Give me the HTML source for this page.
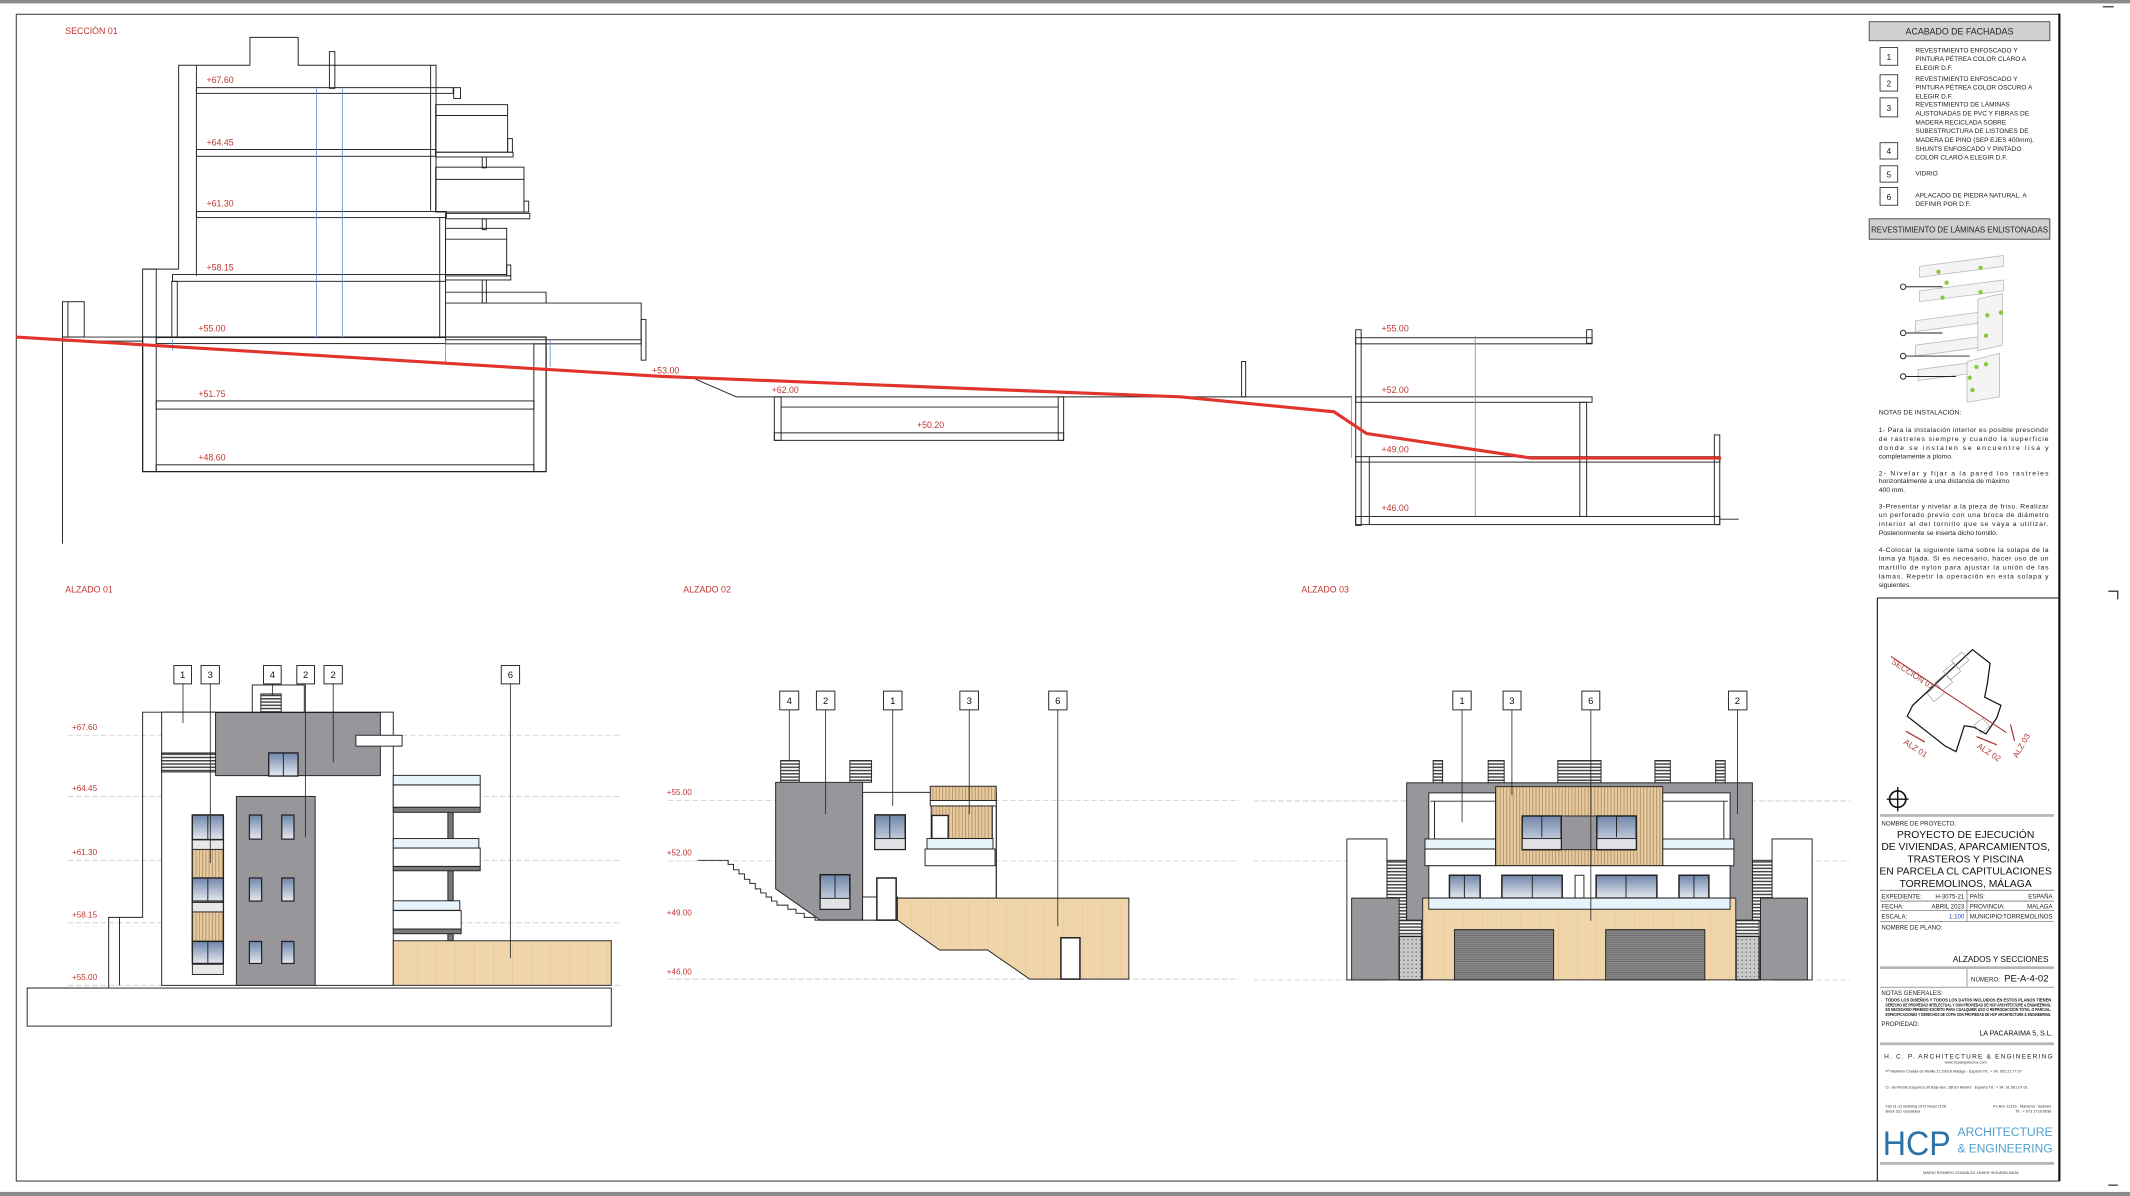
<!DOCTYPE html>
<html><head><meta charset="utf-8">
<style>
html,body{margin:0;padding:0;background:#fff;}
svg{display:block;}
text{font-family:"Liberation Sans",sans-serif;}
</style></head>
<body>
<svg width="2130" height="1196" viewBox="0 0 1568 880" preserveAspectRatio="none" xmlns="http://www.w3.org/2000/svg">
<defs>
<pattern id="louv" width="4" height="2.4" patternUnits="userSpaceOnUse"><rect width="4" height="2.4" fill="#fff"/><rect width="4" height="1.1" fill="#444"/></pattern>
<pattern id="wood" width="2.4" height="4" patternUnits="userSpaceOnUse"><rect width="2.4" height="4" fill="#e6cba0"/><rect width="0.7" height="4" fill="#b89468"/></pattern>
<pattern id="stone" width="14" height="20" patternUnits="userSpaceOnUse"><rect width="14" height="20" fill="#f1d5aa"/><rect x="13" width="0.4" height="20" fill="#e6c496"/></pattern>
<pattern id="gar" width="4" height="1.6" patternUnits="userSpaceOnUse"><rect width="4" height="1.6" fill="#8a8a8a"/><rect width="4" height="0.6" fill="#6a6a6a"/></pattern>
<pattern id="hatch" width="3" height="3" patternUnits="userSpaceOnUse"><rect width="3" height="3" fill="#c9c9c9"/><circle cx="1.5" cy="1.5" r="0.4" fill="#333"/></pattern>
<linearGradient id="gl" x1="0" y1="0" x2="0" y2="1"><stop offset="0" stop-color="#6f86ab"/><stop offset="1" stop-color="#e6e9f0"/></linearGradient>
</defs>

<rect x="0" y="0" width="1568" height="2.5" fill="#8a8a8a"/>
<rect x="0" y="877" width="1568" height="3" fill="#8a8a8a"/>
<rect x="12" y="10.5" width="1504" height="858.5" fill="none" stroke="#444" stroke-width="0.8"/>
<line x1="1516" y1="10" x2="1516" y2="869" stroke="#111" stroke-width="1.6"/>
<line x1="1382" y1="440" x2="1382" y2="869" stroke="#111" stroke-width="0.8"/>
<line x1="1382" y1="440" x2="1516" y2="440" stroke="#111" stroke-width="0.8"/>
<path d="M1552 435 H1559 V441" fill="none" stroke="#111" stroke-width="0.8"/>
<line x1="1552" y1="872" x2="1559" y2="872" stroke="#111" stroke-width="0.8"/>
<line x1="1548" y1="5" x2="1556" y2="5" stroke="#111" stroke-width="0.8"/>

<g fill="#c0352e" font-size="6.5">
<text x="48" y="25">SECCIÓN 01</text>
<text x="48" y="436">ALZADO 01</text>
<text x="503" y="436">ALZADO 02</text>
<text x="958" y="436">ALZADO 03</text>
</g>
<g fill="none" stroke="#222" stroke-width="0.7">
<polyline points="131.5,198 131.5,48 184,48 184,27.5 219.5,27.5 219.5,48 321,48 321,155"/>
<line x1="144.6" y1="48" x2="144.6" y2="203"/>
<line x1="317" y1="48" x2="317" y2="155"/>
<rect x="242.5" y="38" width="4" height="27"/>
<rect x="144.6" y="64.5" width="189" height="4.2"/>
<rect x="334" y="64.5" width="5" height="8"/>
<rect x="144.6" y="110" width="176" height="5"/>
<rect x="144.6" y="155.6" width="184" height="4.5"/>
<rect x="127" y="202" width="201" height="5"/>
<rect x="115" y="248.4" width="213" height="4.4"/>
<rect x="323.7" y="160" width="4.3" height="88"/>
<rect x="126.5" y="207" width="4" height="41"/>
<rect x="320.7" y="77" width="53" height="35"/><line x1="320.7" y1="85" x2="373.7" y2="85"/>
<rect x="373.7" y="102" width="3.5" height="10"/>
<rect x="320.7" y="112" width="57" height="3.5"/>
<rect x="355" y="115.5" width="3" height="8"/>
<rect x="320.7" y="123" width="65" height="33"/><line x1="320.7" y1="132" x2="385.7" y2="132"/>
<rect x="385.7" y="148" width="3.5" height="8"/>
<rect x="328" y="157" width="62" height="4"/>
<rect x="355" y="161" width="3" height="8"/>
<rect x="328" y="168" width="45" height="34"/><line x1="328" y1="176" x2="373" y2="176"/>
<rect x="373" y="195" width="3" height="8"/>
<rect x="328" y="203" width="48" height="3"/>
<rect x="355" y="206" width="3" height="17"/>
<polyline points="328,215 402,215 402,223 472,223 472,250"/>
<rect x="472" y="235" width="3.5" height="30"/>
<rect x="328" y="250" width="144" height="3"/>
<line x1="328" y1="223" x2="402" y2="223"/>
<rect x="105" y="198" width="10" height="149"/>
<line x1="105" y1="198" x2="131.5" y2="198"/>
<rect x="105" y="248" width="297" height="99" stroke-width="0.9"/>
<rect x="393" y="253" width="9" height="94"/>
<rect x="115" y="295" width="278" height="6"/>
<rect x="115" y="342" width="278" height="5"/>
<rect x="46" y="222" width="16" height="26"/><line x1="50" y1="222" x2="50" y2="248"/>
<line x1="46" y1="248" x2="105" y2="248"/><line x1="46" y1="251" x2="105" y2="251"/>
<line x1="46" y1="248" x2="46" y2="400"/>
<line x1="512" y1="279" x2="542" y2="292"/>
<line x1="542" y1="292" x2="995" y2="292"/>
<rect x="570" y="292" width="5" height="32"/>
<rect x="779" y="292" width="4" height="32"/>
<line x1="575" y1="299.5" x2="779" y2="299.5"/>
<rect x="570" y="318.5" width="213" height="5.5"/>
<rect x="914" y="266" width="3" height="26"/>
<rect x="998" y="242.6" width="4" height="144"/>
<rect x="1168" y="242.6" width="4" height="10"/>
<rect x="998" y="248.5" width="174" height="4.5"/>
<rect x="998" y="292" width="174" height="4"/>
<rect x="998" y="336" width="268" height="4"/>
<rect x="998" y="380" width="268" height="6"/>
<rect x="1163" y="296" width="5" height="84"/>
<line x1="1008" y1="336" x2="1008" y2="386"/>
<rect x="1262" y="320" width="4" height="66"/>
<line x1="1266" y1="382" x2="1280" y2="382"/>
</g>
<g stroke="#5b8fd8" stroke-width="0.6">
<line x1="233" y1="65" x2="233" y2="249"/><line x1="252" y1="65" x2="252" y2="249"/>
<line x1="127" y1="250" x2="127" y2="258"/><line x1="328" y1="250" x2="328" y2="268"/><line x1="405" y1="250" x2="405" y2="270"/>
<line x1="1086" y1="247" x2="1086" y2="380"/><line x1="995" y1="291" x2="995" y2="337"/>
</g>
<polyline points="12,248 488,277 869,292 982,303 1006,319 1127,337 1267,337" fill="none" stroke="#e0342c" stroke-width="2.3"/>
<g fill="#c0352e" font-size="6.5">
<text x="152" y="61">+67.60</text><text x="152" y="107">+64.45</text><text x="152" y="152">+61.30</text>
<text x="152" y="199">+58.15</text><text x="146" y="244">+55.00</text><text x="146" y="292">+51.75</text>
<text x="146" y="339">+48.60</text><text x="480" y="275">+53.00</text><text x="568" y="289">+62.00</text>
<text x="675" y="315">+50.20</text><text x="1017" y="244">+55.00</text><text x="1017" y="289">+52.00</text>
<text x="1017" y="333">+49.00</text><text x="1017" y="376">+46.00</text>
</g>

<g stroke="#ccc" stroke-width="0.6" stroke-dasharray="4,2">
<line x1="50" y1="541" x2="458" y2="541"/><line x1="50" y1="586" x2="458" y2="586"/>
<line x1="50" y1="633" x2="458" y2="633"/><line x1="50" y1="679" x2="458" y2="679"/>
<line x1="50" y1="725" x2="458" y2="725"/>
</g>
<g fill="#c0352e" font-size="6"><text x="53" y="537">+67.60</text><text x="53" y="582">+64.45</text><text x="53" y="629">+61.30</text><text x="53" y="675">+58.15</text><text x="53" y="721">+55.00</text></g>
<g stroke="#222" stroke-width="0.7">
<polyline points="20,727 80,727 80,675 105,675 105,524 159,524" fill="none"/>
<rect x="20" y="727" width="430" height="28" fill="none"/>
<line x1="88" y1="675" x2="88" y2="725"/>
<rect x="119" y="524" width="170.5" height="201" fill="#fff"/>
<rect x="119" y="554" width="40" height="14" fill="url(#louv)"/>
<rect x="185.7" y="504" width="38.3" height="20" fill="#fff"/>
<rect x="192" y="510.6" width="15" height="13.7" fill="url(#louv)"/>
<rect x="158.7" y="524.3" width="121.3" height="46.4" fill="#97979b"/>
<rect x="262" y="541" width="34" height="8" fill="#fff"/>
<rect x="197.8" y="554" width="21.6" height="17" fill="url(#gl)" stroke-width="1"/>
<line x1="208.6" y1="554" x2="208.6" y2="571"/>
<rect x="174" y="586" width="58" height="139" fill="#97979b"/>
<g fill="url(#gl)" stroke-width="0.9">
<rect x="183.6" y="599.7" width="9" height="17.7"/><rect x="207.4" y="599.7" width="9" height="17.7"/>
<rect x="183.6" y="646" width="9" height="17"/><rect x="207.4" y="646" width="9" height="17"/>
<rect x="183.6" y="692.7" width="9" height="16.2"/><rect x="207.4" y="692.7" width="9" height="16.2"/>
</g>
<rect x="141.6" y="599.7" width="22.8" height="101" fill="#fff" stroke-width="1.1"/>
<rect x="141.6" y="599.7" width="22.8" height="18" fill="url(#gl)" stroke-width="1"/>
<rect x="141.6" y="618" width="22.8" height="7" fill="#e8e8ea"/>
<rect x="141.6" y="625" width="22.8" height="21" fill="url(#wood)"/>
<rect x="141.6" y="646" width="22.8" height="17" fill="url(#gl)" stroke-width="1"/>
<rect x="141.6" y="664" width="22.8" height="7" fill="#e8e8ea"/>
<rect x="141.6" y="671" width="22.8" height="21.5" fill="url(#wood)"/>
<rect x="141.6" y="692.7" width="22.8" height="16.2" fill="url(#gl)" stroke-width="1"/>
<rect x="141.6" y="709.5" width="22.8" height="7.5" fill="#e8e8ea"/>
<line x1="153" y1="599.7" x2="153" y2="617.4"/><line x1="153" y1="646" x2="153" y2="663"/><line x1="153" y1="692.7" x2="153" y2="709"/>
<rect x="329.7" y="597" width="3.9" height="20" fill="#777"/>
<rect x="329.7" y="640.7" width="3.9" height="22" fill="#777"/>
<rect x="329.7" y="687" width="3.9" height="6" fill="#777"/>
<rect x="289.5" y="570.5" width="64" height="7" fill="#e8f4fb"/>
<rect x="289.5" y="577.6" width="64" height="16.4" fill="#fff"/>
<rect x="289.5" y="594" width="64" height="3.7" fill="#7a7a7e"/>
<rect x="289.5" y="617" width="63" height="7" fill="#e8f4fb"/>
<rect x="289.5" y="624" width="64" height="13.5" fill="#fff"/>
<rect x="289.5" y="637.5" width="64" height="3.2" fill="#7a7a7e"/>
<rect x="289.5" y="662.8" width="49" height="7" fill="#e8f4fb"/>
<rect x="289.5" y="670" width="50" height="13.6" fill="#fff"/>
<rect x="289.5" y="683.6" width="50" height="3.4" fill="#7a7a7e"/>
<rect x="289.5" y="692.2" width="160.5" height="32.8" fill="url(#stone)"/>
</g>
<g stroke="#222" stroke-width="0.6" fill="none">
<line x1="134.7" y1="503.2" x2="134.7" y2="532"/><line x1="154.8" y1="503.2" x2="154.8" y2="635"/>
<line x1="200.5" y1="503.2" x2="200.5" y2="512"/><line x1="224.8" y1="503.2" x2="224.8" y2="616"/>
<line x1="245.3" y1="503.2" x2="245.3" y2="561"/><line x1="375.7" y1="503.2" x2="375.7" y2="705"/>
</g>
<g font-size="7" text-anchor="middle" fill="#111">
<rect x="128" y="489.7" width="13" height="13.5" fill="#fff" stroke="#222" stroke-width="0.7"/><text x="134.5" y="499">1</text>
<rect x="148" y="489.7" width="13.5" height="13.5" fill="#fff" stroke="#222" stroke-width="0.7"/><text x="154.8" y="499">3</text>
<rect x="194" y="489.7" width="13" height="13.5" fill="#fff" stroke="#222" stroke-width="0.7"/><text x="200.5" y="499">4</text>
<rect x="218.5" y="489.7" width="13" height="13.5" fill="#fff" stroke="#222" stroke-width="0.7"/><text x="225" y="499">2</text>
<rect x="238.5" y="489.7" width="13.5" height="13.5" fill="#fff" stroke="#222" stroke-width="0.7"/><text x="245.3" y="499">2</text>
<rect x="369" y="489.7" width="13.5" height="13.5" fill="#fff" stroke="#222" stroke-width="0.7"/><text x="375.7" y="499">6</text>
</g>

<g stroke="#ccc" stroke-width="0.6" stroke-dasharray="4,2">
<line x1="491.7" y1="589" x2="912.5" y2="589"/><line x1="491.7" y1="633.5" x2="912.5" y2="633.5"/>
<line x1="491.7" y1="720.4" x2="912.5" y2="720.4"/>
</g>
<g fill="#c0352e" font-size="6"><text x="490.8" y="585">+55.00</text><text x="490.8" y="629.5">+52.00</text><text x="490.8" y="673.5">+49.00</text><text x="490.8" y="717">+46.00</text></g>
<g stroke="#222" stroke-width="0.7">
<rect x="574.7" y="559.6" width="13.7" height="16" fill="url(#louv)"/>
<rect x="625.6" y="559.6" width="16" height="16" fill="url(#louv)"/>
<rect x="635" y="583" width="98.4" height="77.8" fill="#fff"/>
<polygon points="571,575.6 635,575.6 635,677 603.8,677 571,654" fill="#97979b"/>
<polyline points="513.5,633 536,633 536,636 540,636 540,640 544,640 544,643 548,643 548,647 552,647 552,650 556,650 556,654 560,654 560,657 564,657 564,660 568,660 568,663 572,663 572,666 580,666 580,669 586,669 586,672 592,672 592,675 600,675 600,677 660.6,677" fill="none"/>
<rect x="635" y="660" width="25.6" height="17" fill="#fff"/>
<rect x="645.5" y="646" width="14.2" height="31" fill="#fff" stroke-width="1.1"/>
<rect x="644" y="599.6" width="22.4" height="25.4" fill="url(#gl)" stroke-width="1.1"/>
<line x1="655" y1="599.6" x2="655" y2="617"/><rect x="644" y="617" width="22.4" height="8" fill="#e0e2e6"/>
<rect x="603.8" y="643.6" width="21.8" height="25.4" fill="url(#gl)" stroke-width="1.1"/>
<line x1="614.7" y1="643.6" x2="614.7" y2="661"/><rect x="603.8" y="661" width="21.8" height="8" fill="#e0e2e6"/>
<rect x="684.8" y="578.5" width="48.6" height="10.5" fill="url(#wood)"/>
<rect x="684.8" y="589" width="48.6" height="4" fill="#fff"/>
<rect x="685.5" y="593" width="45" height="24" fill="url(#wood)"/>
<rect x="686" y="600" width="12" height="17" fill="#fff" stroke-width="1"/>
<rect x="682.4" y="617" width="48.6" height="7.7" fill="#e8f4fb"/>
<rect x="681" y="624.7" width="51.5" height="12.3" fill="#fff"/>
<line x1="733.4" y1="593" x2="733.4" y2="660.8"/>
<polygon points="660.6,660.8 831,660.8 831,720.4 758,720.4 727,699 691.7,699 660.6,677" fill="url(#stone)"/>
<rect x="781" y="690" width="14" height="30.4" fill="#fff" stroke-width="1.1"/>
</g>
<g stroke="#222" stroke-width="0.6">
<line x1="581" y1="522.3" x2="581" y2="559.6"/><line x1="607.8" y1="522.3" x2="607.8" y2="599"/>
<line x1="657.2" y1="522.3" x2="657.2" y2="593"/><line x1="713.5" y1="522.3" x2="713.5" y2="599"/>
<line x1="778.7" y1="522.3" x2="778.7" y2="681.6"/>
</g>
<g font-size="7" text-anchor="middle" fill="#111">
<rect x="574" y="508.5" width="14" height="13.8" fill="#fff" stroke="#222" stroke-width="0.7"/><text x="581" y="518">4</text>
<rect x="601" y="508.5" width="13.6" height="13.8" fill="#fff" stroke="#222" stroke-width="0.7"/><text x="607.8" y="518">2</text>
<rect x="650.4" y="508.5" width="13.6" height="13.8" fill="#fff" stroke="#222" stroke-width="0.7"/><text x="657.2" y="518">1</text>
<rect x="706.6" y="508.5" width="13.7" height="13.8" fill="#fff" stroke="#222" stroke-width="0.7"/><text x="713.5" y="518">3</text>
<rect x="772" y="508.5" width="13.5" height="13.8" fill="#fff" stroke="#222" stroke-width="0.7"/><text x="778.7" y="518">6</text>
</g>

<g stroke="#ccc" stroke-width="0.6" stroke-dasharray="4,2">
<line x1="923" y1="589.3" x2="1362" y2="589.3"/><line x1="923" y1="633.5" x2="1362" y2="633.5"/>
<line x1="923" y1="721" x2="1362" y2="721"/>
</g>
<g stroke="#222" stroke-width="0.7">
<rect x="1055" y="559.6" width="7" height="16.4" fill="url(#louv)"/>
<rect x="1095.5" y="559.6" width="11.8" height="16.4" fill="url(#louv)"/>
<rect x="1146.8" y="559.6" width="31.8" height="16.4" fill="url(#louv)"/>
<rect x="1218.3" y="559.6" width="11.3" height="16.4" fill="url(#louv)"/>
<rect x="1263" y="559.6" width="7" height="16.4" fill="url(#louv)"/>
<rect x="991.5" y="617.3" width="29.5" height="103.7" fill="#fff"/>
<rect x="1304.5" y="617.3" width="29.5" height="103.7" fill="#fff"/>
<rect x="1021" y="633" width="14.5" height="44.5" fill="url(#louv)"/>
<rect x="1290" y="633" width="14.5" height="44.5" fill="url(#louv)"/>
<rect x="995" y="660.8" width="35" height="60.2" fill="#97979b"/>
<rect x="1296" y="660.8" width="34.5" height="60.2" fill="#97979b"/>
<rect x="1030" y="677" width="16.5" height="12" fill="url(#louv)"/>
<rect x="1278" y="677" width="17" height="12" fill="url(#louv)"/>
<rect x="1030" y="689" width="16.5" height="32" fill="url(#hatch)" stroke-width="1"/>
<rect x="1278" y="689" width="17" height="32" fill="url(#hatch)" stroke-width="1"/>
<rect x="1035.5" y="576" width="254.5" height="101" fill="#97979b"/>
<rect x="1051.8" y="583.4" width="49.2" height="34" fill="#fff"/>
<rect x="1224" y="583.4" width="49.6" height="34" fill="#fff"/>
<line x1="1053" y1="589.5" x2="1101" y2="589.5"/><line x1="1224" y1="589.5" x2="1272" y2="589.5"/>
<line x1="1056" y1="589.5" x2="1056" y2="617"/><line x1="1269" y1="589.5" x2="1269" y2="617"/>
<rect x="1049" y="617.3" width="52" height="7.4" fill="#e8f4fb"/>
<rect x="1049" y="624.7" width="52" height="12.3" fill="#fff"/>
<rect x="1224" y="617.3" width="52.4" height="7.4" fill="#e8f4fb"/>
<rect x="1224" y="624.7" width="52.4" height="12.3" fill="#fff"/>
<rect x="1101" y="578.8" width="123" height="58.2" fill="url(#wood)"/>
<rect x="1120.6" y="600.4" width="84" height="24.8" fill="#97979b"/>
<rect x="1120.6" y="600.4" width="28.7" height="24.8" fill="url(#gl)" stroke-width="1.1"/>
<rect x="1175.5" y="600.4" width="29" height="24.8" fill="url(#gl)" stroke-width="1.1"/>
<line x1="1135" y1="600.4" x2="1135" y2="616"/><line x1="1190" y1="600.4" x2="1190" y2="616"/>
<rect x="1120.6" y="617" width="28.7" height="8" fill="#dfe1e5"/><rect x="1175.5" y="617" width="29" height="8" fill="#dfe1e5"/>
<rect x="1051.8" y="637" width="221.8" height="24" fill="#fff"/>
<g fill="url(#gl)" stroke-width="1.1">
<rect x="1067" y="644" width="22.6" height="16.8"/><rect x="1105.6" y="644" width="44.4" height="16.8"/>
<rect x="1175" y="644" width="44.7" height="16.8"/><rect x="1236" y="644" width="22" height="16.8"/>
</g>
<line x1="1078" y1="644" x2="1078" y2="660.8"/><line x1="1128" y1="644" x2="1128" y2="660.8"/>
<line x1="1197" y1="644" x2="1197" y2="660.8"/><line x1="1247" y1="644" x2="1247" y2="660.8"/>
<rect x="1159.5" y="644" width="6.5" height="16.8" fill="#fff"/>
<rect x="1047.3" y="660.8" width="230.5" height="60.2" fill="url(#stone)"/>
<rect x="1051.8" y="660.8" width="221.8" height="8.2" fill="#e8f4fb"/>
<rect x="1070.7" y="684" width="73" height="37" fill="url(#gar)"/>
<rect x="1182" y="684" width="73" height="37" fill="url(#gar)"/>
</g>
<g stroke="#222" stroke-width="0.6">
<line x1="1076.3" y1="522.3" x2="1076.3" y2="605"/><line x1="1113" y1="522.3" x2="1113" y2="585"/>
<line x1="1171.1" y1="522.3" x2="1171.1" y2="677.5"/><line x1="1279" y1="522.3" x2="1279" y2="599"/>
</g>
<g font-size="7" text-anchor="middle" fill="#111">
<rect x="1069.5" y="508.5" width="13.5" height="13.8" fill="#fff" stroke="#222" stroke-width="0.7"/><text x="1076.3" y="518">1</text>
<rect x="1106.5" y="508.5" width="13.2" height="13.8" fill="#fff" stroke="#222" stroke-width="0.7"/><text x="1113" y="518">3</text>
<rect x="1164.5" y="508.5" width="13.2" height="13.8" fill="#fff" stroke="#222" stroke-width="0.7"/><text x="1171.1" y="518">6</text>
<rect x="1272.4" y="508.5" width="13.6" height="13.8" fill="#fff" stroke="#222" stroke-width="0.7"/><text x="1279" y="518">2</text>
</g>

<rect x="1376" y="16" width="133" height="14" fill="#d0d0d0" stroke="#333" stroke-width="0.6"/>
<text x="1442.5" y="25.5" font-size="6.5" text-anchor="middle" fill="#222">ACABADO DE FACHADAS</text>
<g fill="#fff" stroke="#222" stroke-width="0.6">
<rect x="1384" y="35" width="13" height="13"/><rect x="1384" y="55" width="13" height="12"/>
<rect x="1384" y="72" width="13" height="14"/><rect x="1384" y="105" width="13" height="12"/>
<rect x="1384" y="122" width="13" height="12"/><rect x="1384" y="138" width="13" height="13"/>
</g>
<g font-size="6" text-anchor="middle" fill="#111">
<text x="1390.5" y="44">1</text><text x="1390.5" y="63.5">2</text><text x="1390.5" y="81.5">3</text>
<text x="1390.5" y="113.5">4</text><text x="1390.5" y="130.5">5</text><text x="1390.5" y="147">6</text>
</g>
<g font-size="4.8" fill="#222">
<text x="1410" y="38.5">REVESTIMIENTO ENFOSCADO Y</text><text x="1410" y="45">PINTURA PÉTREA COLOR CLARO A</text><text x="1410" y="51.5">ELEGIR D.F.</text>
<text x="1410" y="59.5">REVESTIMIENTO ENFOSCADO Y</text><text x="1410" y="66">PINTURA PÉTREA COLOR OSCURO A</text><text x="1410" y="72.5">ELEGIR D.F.</text>
<text x="1410" y="78.5">REVESTIMIENTO DE LÁMINAS</text><text x="1410" y="85">ALISTONADAS DE PVC Y FIBRAS DE</text><text x="1410" y="91.5">MADERA RECICLADA SOBRE</text><text x="1410" y="98">SUBESTRUCTURA DE LISTONES DE</text><text x="1410" y="104.5">MADERA DE PINO (SEP EJES 400mm).</text>
<text x="1410" y="111">SHUNTS ENFOSCADO Y PINTADO</text><text x="1410" y="117.5">COLOR CLARO A ELEGIR D.F.</text>
<text x="1410" y="129">VIDRIO</text>
<text x="1410" y="145.5">APLACADO DE PIEDRA NATURAL. A</text><text x="1410" y="151.5">DEFINIR POR D.F.</text>
</g>
<rect x="1376" y="161" width="133" height="15" fill="#d0d0d0" stroke="#333" stroke-width="0.6"/>
<text x="1442.5" y="171" font-size="5.8" text-anchor="middle" fill="#222">REVESTIMIENTO DE LÁMINAS ENLISTONADAS</text>
<g stroke="#bbb" stroke-width="0.6" fill="#f4f4f4">
<polygon points="1413,196 1475,188 1475,196 1413,204"/>
<polygon points="1413,214 1475,206 1475,214 1413,222"/>
<polygon points="1410,236 1470,228 1470,236 1410,244"/>
<polygon points="1410,254 1470,246 1470,254 1410,262"/>
<polygon points="1456,220 1474,216 1474,254 1456,258"/>
<polygon points="1412,272 1472,264 1472,272 1412,280"/>
<polygon points="1448,266 1472,260 1472,292 1448,296"/>
</g>
<g fill="#8cc63f">
<circle cx="1427" cy="200" r="1.6"/><circle cx="1458" cy="197" r="1.6"/><circle cx="1433" cy="208" r="1.6"/>
<circle cx="1458" cy="215" r="1.6"/><circle cx="1430" cy="219" r="1.6"/><circle cx="1463" cy="232" r="1.6"/>
<circle cx="1473" cy="230" r="1.6"/><circle cx="1462" cy="247" r="1.6"/><circle cx="1455" cy="270" r="1.6"/>
<circle cx="1462" cy="268" r="1.6"/><circle cx="1450" cy="278" r="1.6"/><circle cx="1452" cy="287" r="1.6"/>
</g>
<g stroke="#222" stroke-width="0.7" fill="#fff">
<line x1="1401" y1="211" x2="1430" y2="211"/><circle cx="1401" cy="211" r="2"/>
<line x1="1401" y1="245" x2="1430" y2="245"/><circle cx="1401" cy="245" r="2"/>
<line x1="1401" y1="262" x2="1450" y2="262"/><circle cx="1401" cy="262" r="2"/>
<line x1="1401" y1="277" x2="1440" y2="277"/><circle cx="1401" cy="277" r="2"/>
</g>
<g font-size="5" fill="#222">
<text x="1383" y="305">NOTAS DE INSTALACIÓN:</text>
<text x="1383" y="318" textLength="125" lengthAdjust="spacing">1- Para la instalación interior es posible prescindir</text>
<text x="1383" y="324.5" textLength="125" lengthAdjust="spacing">de rastreles siempre y cuando la superficie</text>
<text x="1383" y="331" textLength="125" lengthAdjust="spacing">donde se instalen se encuentre lisa y</text>
<text x="1383" y="337.5">completamente a plomo.</text>
<text x="1383" y="350" textLength="125" lengthAdjust="spacing">2- Nivelar y fijar a la pared los rastreles</text>
<text x="1383" y="355.5">horizontalmente a una distancia de máximo</text>
<text x="1383" y="362">400 mm.</text>
<text x="1383" y="374" textLength="125" lengthAdjust="spacing">3-Presentar y nivelar a la pieza de friso. Realizar</text>
<text x="1383" y="380.5" textLength="125" lengthAdjust="spacing">un perforado previo con una broca de diámetro</text>
<text x="1383" y="387" textLength="125" lengthAdjust="spacing">interior al del tornillo que se vaya a utilizar.</text>
<text x="1383" y="393.5">Posteriormente se inserta dicho tornillo.</text>
<text x="1383" y="406" textLength="125" lengthAdjust="spacing">4-Colocar la siguiente lama sobre la solapa de la</text>
<text x="1383" y="412.5" textLength="125" lengthAdjust="spacing">lama ya fijada. Si es necesario, hacer uso de un</text>
<text x="1383" y="419" textLength="125" lengthAdjust="spacing">martillo de nylon para ajustar la unión de las</text>
<text x="1383" y="425.5" textLength="125" lengthAdjust="spacing">lamas. Repetir la operación en esta solapa y</text>
<text x="1383" y="432">siguientes.</text>
</g>

<g fill="none" stroke="#111" stroke-width="0.9">
<polygon points="1408,519 1452,478 1465,488 1463,503 1461,513 1473,519 1470,528 1462,540 1453,535 1446,534 1440,553 1432,549 1404,527"/>
</g>
<g fill="none" stroke="#888" stroke-width="0.4">
<rect x="1420" y="506" width="10" height="8" transform="rotate(-40 1425 510)"/>
<rect x="1426" y="498" width="10" height="8" transform="rotate(-40 1431 502)"/>
<rect x="1432" y="490" width="10" height="8" transform="rotate(-40 1437 494)"/>
<rect x="1438" y="482" width="10" height="8" transform="rotate(-40 1443 486)"/>
<rect x="1455" y="530" width="8" height="8" transform="rotate(-40 1459 534)"/>
</g>
<line x1="1392" y1="483" x2="1477" y2="539" stroke="#a33" stroke-width="0.8"/>
<line x1="1403" y1="538" x2="1417" y2="546" stroke="#a33" stroke-width="0.9"/>
<line x1="1455" y1="542" x2="1470" y2="548" stroke="#a33" stroke-width="0.9"/>
<line x1="1480" y1="533" x2="1483" y2="545" stroke="#a33" stroke-width="0.9"/>
<g fill="#b03a3a" font-size="6">
<text x="1392" y="488" transform="rotate(33 1392 488)">SECCIÓN 01</text>
<text x="1401" y="547" transform="rotate(33 1401 547)">ALZ 01</text>
<text x="1455" y="550" transform="rotate(33 1455 550)">ALZ 02</text>
<text x="1485" y="558" transform="rotate(-60 1485 558)">ALZ 03</text>
</g>
<circle cx="1397" cy="588" r="6" fill="none" stroke="#111" stroke-width="1.2"/>
<line x1="1389" y1="588" x2="1405" y2="588" stroke="#111" stroke-width="1"/>
<line x1="1397" y1="579" x2="1397" y2="597" stroke="#111" stroke-width="1"/>
<g fill="#b5b5b5">
<rect x="1384" y="599" width="128" height="2"/><rect x="1384" y="711" width="128" height="2"/>
<rect x="1384" y="767" width="128" height="2"/><rect x="1384" y="855" width="128" height="2"/>
<rect x="1384" y="726" width="128" height="1"/>
</g>
<text x="1385" y="607.5" font-size="4.5" fill="#222">NOMBRE DE PROYECTO:</text>
<g font-size="7.6" text-anchor="middle" fill="#111">
<text x="1447" y="616.5">PROYECTO DE EJECUCIÓN</text>
<text x="1447" y="625.5">DE VIVIENDAS, APARCAMIENTOS,</text>
<text x="1447" y="634.5">TRASTEROS Y PISCINA</text>
<text x="1447" y="643.5">EN PARCELA CL CAPITULACIONES</text>
<text x="1447" y="652.5">TORREMOLINOS, MÁLAGA</text>
</g>
<g stroke="#444" stroke-width="0.4">
<line x1="1384" y1="655" x2="1512" y2="655"/><line x1="1384" y1="663" x2="1512" y2="663"/>
<line x1="1384" y1="670" x2="1512" y2="670"/><line x1="1384" y1="678" x2="1512" y2="678"/>
<line x1="1448" y1="655" x2="1448" y2="678"/><line x1="1448" y1="713" x2="1448" y2="726"/>
</g>
<g font-size="4.5" fill="#222">
<text x="1385" y="661">EXPEDIENTE:</text><text x="1446" y="661" text-anchor="end">H-3075-21</text>
<text x="1450" y="661">PAÍS:</text><text x="1511" y="661" text-anchor="end">ESPAÑA</text>
<text x="1385" y="668.5">FECHA:</text><text x="1446" y="668.5" text-anchor="end">ABRIL 2023</text>
<text x="1450" y="668.5">PROVINCIA:</text><text x="1511" y="668.5" text-anchor="end">MALAGA</text>
<text x="1385" y="676">ESCALA:</text><text x="1446" y="676" text-anchor="end" fill="#2244cc">1:100</text>
<text x="1450" y="676">MUNICIPIO:</text><text x="1511" y="676" text-anchor="end">TORREMOLINOS</text>
<text x="1385" y="684">NOMBRE DE PLANO:</text>
<text x="1451" y="722">NÚMERO:</text>
<text x="1385" y="732">NOTAS GENERALES:</text>
<text x="1385" y="755">PROPIEDAD:</text>
</g>
<text x="1508" y="708" font-size="6" text-anchor="end" fill="#111">ALZADOS Y SECCIONES</text>
<text x="1508" y="722" font-size="7" text-anchor="end" fill="#111">PE-A-4-02</text>
<g fill="#111" font-size="3.4" font-weight="bold">
<text x="1388" y="737" textLength="122" lengthAdjust="spacingAndGlyphs">TODOS LOS DISEÑOS Y TODOS LOS DATOS INCLUIDOS EN ESTOS PLANOS TIENEN</text>
<text x="1388" y="740.5" textLength="122" lengthAdjust="spacingAndGlyphs">DERECHO DE PROPIEDAD INTELECTUAL Y SON PROPIEDAD DE HCP ARCHITECTURE &amp; ENGINEERING.</text>
<text x="1388" y="744" textLength="122" lengthAdjust="spacingAndGlyphs">ES NECESARIO PERMISO ESCRITO PARA CUALQUIER USO O REPRODUCCIÓN TOTAL O PARCIAL.</text>
<text x="1388" y="747.5" textLength="122" lengthAdjust="spacingAndGlyphs">ESPECIFICACIONES Y DERECHOS DE COPIA SON PROPIEDAD DE HCP ARCHITECTURE &amp; ENGINEERING.</text>
</g>
<text x="1511" y="762" font-size="5.2" text-anchor="end" fill="#111">LA PACARAIMA 5, S.L.</text>
<text x="1387" y="779" font-size="4.8" fill="#222" textLength="124" lengthAdjust="spacing">H. C. P.  ARCHITECTURE &amp; ENGINEERING</text>
<g font-size="2.8" fill="#333">
<text x="1447" y="782.5" text-anchor="middle">www.hcparquitectos.com</text>
<text x="1388" y="789">Pº Marítimo Ciudad de Melilla 11    29016 Málaga - España    Tlf.: + 34. 952.22.77.07</text>
<text x="1388" y="801">C/. del Monte Esquinza 30 Bajo-dex.  28010 Madrid - España    Tlf.: + 34. 91.661.07.61</text>
<text x="1388" y="815">Flat 11-12 Building 1972 Road 2128</text>
<text x="1388" y="818.5">Block 321 Gudaibiya</text>
<text x="1510" y="815" text-anchor="end">Po Box 11316 - Manama - Bahrain</text>
<text x="1510" y="818.5" text-anchor="end">Tlf.: + 973 1718 8538</text>
<text x="1486" y="864" text-anchor="end">MARIO ROMERO GONZÁLEZ     JAVIER HIGUERA MATA</text>
</g>
<text x="1386" y="850" font-size="25" fill="#2a72a8" textLength="50" lengthAdjust="spacingAndGlyphs">HCP</text>
<text x="1441" y="836" font-size="8.6" fill="#4f9fd0" textLength="70" lengthAdjust="spacingAndGlyphs">ARCHITECTURE</text>
<text x="1441" y="848" font-size="8.6" fill="#4f9fd0" textLength="70" lengthAdjust="spacingAndGlyphs">&amp; ENGINEERING</text>
</svg>
</body></html>
